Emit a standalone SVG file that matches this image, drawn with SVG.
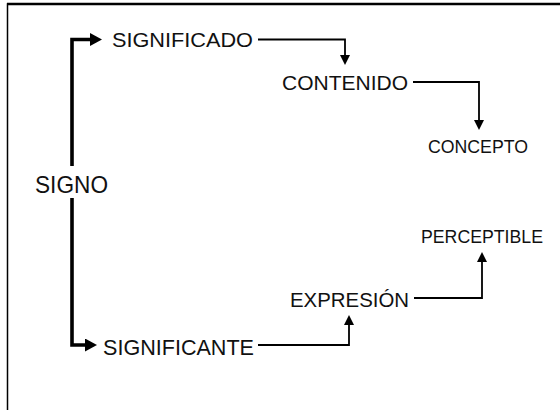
<svg xmlns="http://www.w3.org/2000/svg" width="560" height="410" viewBox="0 0 560 410">
<style>
  .t { font-family: "Liberation Sans", Arial, sans-serif; fill: #111; }
  .thick { fill: none; stroke: #000; stroke-width: 3.6; stroke-linejoin: miter; }
  .thin { fill: none; stroke: #000; stroke-width: 1.8; stroke-linejoin: miter; }
</style>
<defs>
  <marker id="ah-big" markerUnits="userSpaceOnUse" markerWidth="14" markerHeight="14" refX="2" refY="6.5" orient="auto">
    <path d="M0,0 L12,6.5 L0,13 z" fill="#000"/>
  </marker>
  <marker id="ah-small" markerUnits="userSpaceOnUse" markerWidth="12" markerHeight="12" refX="2" refY="5" orient="auto">
    <path d="M0,0 L10,5 L0,10 z" fill="#000"/>
  </marker>
</defs>
<rect width="560" height="410" fill="#fff"/>
<path d="M7.5,410 V4 H560" fill="none" stroke="#000" stroke-width="1.5"/>
<line x1="7" y1="4" x2="560" y2="4" stroke="#000" stroke-width="2.4"/>

<g id="connectors">
  <path class="thick" d="M72,166 V39.5 H92" marker-end="url(#ah-big)"/>
  <path class="thick" d="M72,198 V345 H87" marker-end="url(#ah-big)"/>
  <path class="thin" d="M258,39.5 H345 V57" marker-end="url(#ah-small)"/>
  <path class="thin" d="M413,82 H479 V122" marker-end="url(#ah-small)"/>
  <path class="thin" d="M258,345 H349 V323" marker-end="url(#ah-small)"/>
  <path class="thin" d="M414,298 H482 V260" marker-end="url(#ah-small)"/>
</g>

<g id="signo"><text class="t" x="35" y="193" font-size="24" textLength="73" lengthAdjust="spacingAndGlyphs">SIGNO</text></g>
<g id="significado"><text class="t" x="112" y="47" font-size="20" textLength="141" lengthAdjust="spacingAndGlyphs">SIGNIFICADO</text></g>
<g id="contenido"><text class="t" x="282" y="90" font-size="21" textLength="126" lengthAdjust="spacingAndGlyphs">CONTENIDO</text></g>
<g id="concepto"><text class="t" x="428" y="153" font-size="19" textLength="100" lengthAdjust="spacingAndGlyphs">CONCEPTO</text></g>
<g id="significante"><text class="t" x="103" y="355" font-size="21.5" textLength="151" lengthAdjust="spacingAndGlyphs">SIGNIFICANTE</text></g>
<g id="expresion"><text class="t" x="290" y="307" font-size="21" textLength="119" lengthAdjust="spacingAndGlyphs">EXPRESIÓN</text></g>
<g id="perceptible"><text class="t" x="421" y="243" font-size="17.5" textLength="122" lengthAdjust="spacingAndGlyphs">PERCEPTIBLE</text></g>
</svg>
